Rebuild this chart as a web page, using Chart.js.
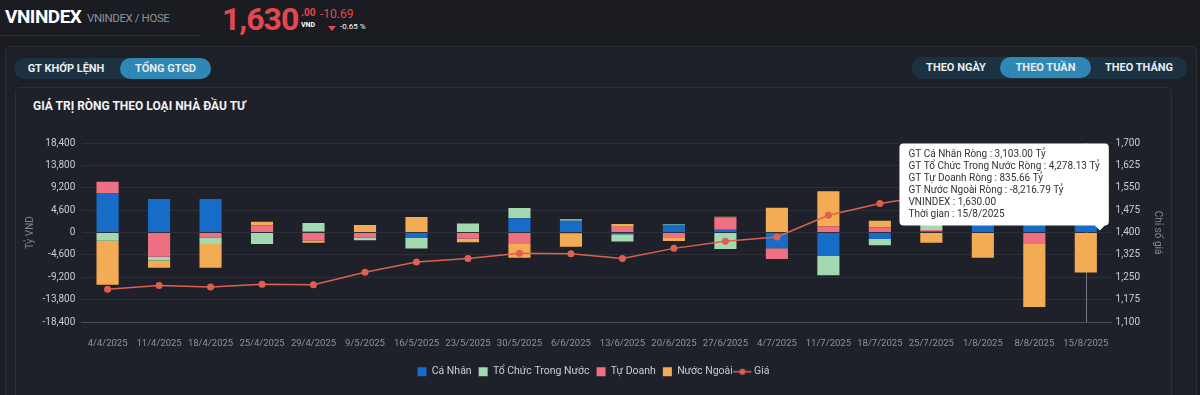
<!DOCTYPE html>
<html>
<head>
<meta charset="utf-8">
<script src="https://cdn.jsdelivr.net/npm/chart.js@4.4.1/dist/chart.umd.min.js"></script>
<style>
  body{margin:0;width:1200px;height:395px;background:#1a1c22;font-family:Roboto,sans-serif;overflow:hidden;position:relative;color:#fff}
  .abs{position:absolute;white-space:nowrap}
  #sym{left:5px;top:5px;font-weight:700;font-size:19px;letter-spacing:-0.5px}
  #exch{left:87px;top:11px;font-size:11.5px;letter-spacing:-0.4px;color:#8d929b}
  #hline{left:0;top:35px;width:200px;height:1px;background:#2b2e36}
  #price{left:222px;top:0px;font-weight:700;font-size:32px;letter-spacing:-1px;color:#e5474f}
  #dec{left:301px;top:7px;font-size:10px;font-weight:700;color:#e5474f}
  #unit{left:301px;top:21px;font-size:7px;font-weight:700;color:#fff}
  #chg{left:320px;top:7px;font-size:12px;color:#e5474f}
  #tri{left:328px;top:26px;width:0;height:0;border-left:4px solid transparent;border-right:4px solid transparent;border-top:5px solid #e5474f}
  #pct{left:340px;top:22px;font-size:8px;color:#fff}
  #outer{left:5px;top:46px;width:1190px;height:360px;border:1px solid #2c3038;border-radius:6px;background:#1d2027}
  .tabs{height:21px;border-radius:11px;background:#1c3242;font-size:11px;font-weight:700}
  .tabs span{position:absolute;top:0;height:21px;line-height:21px;text-align:center;border-radius:11px;color:#e8ecf0}
  .tabs span.on{background:#2f87b3}
  #inner{left:15px;top:87px;width:1155px;height:320px;border:1px solid #2b2f38;border-radius:5px;background:#1e2129}
  #title{left:33px;top:99px;font-size:12px;font-weight:700;color:#f2f3f5}
  #wrap{left:16px;top:125px;width:1155px;height:270px}
</style>
</head>
<body>
<div class="abs" id="sym">VNINDEX</div>
<div class="abs" id="exch">VNINDEX / HOSE</div>
<div class="abs" id="hline"></div>
<div class="abs" id="price">1,630</div>
<div class="abs" id="dec">.00</div>
<div class="abs" id="unit">VND</div>
<div class="abs" id="chg">-10.69</div>
<div class="abs" id="tri"></div>
<div class="abs" id="pct">-0.65 %</div>
<div class="abs" id="outer"></div>
<div class="abs tabs" style="left:14px;top:58px;width:197px">
  <span style="left:0;width:104px">GT KHỚP LỆNH</span>
  <span class="on" style="left:106px;width:91px">TỔNG GTGD</span>
</div>
<div class="abs tabs" style="left:912px;top:57px;width:275px;height:22px">
  <span style="left:0;width:88px">THEO NGÀY</span>
  <span class="on" style="left:88px;width:91px">THEO TUẦN</span>
  <span style="left:181px;width:92px">THEO THÁNG</span>
</div>
<div class="abs" id="inner"></div>
<div class="abs" id="title">GIÁ TRỊ RÒNG THEO LOẠI NHÀ ĐẦU TƯ</div>
<div class="abs" id="wrap"><canvas id="chart"></canvas></div>
<script>
var dates = ['4/4/2025','11/4/2025','18/4/2025','25/4/2025','29/4/2025','9/5/2025','16/5/2025','23/5/2025','30/5/2025','6/6/2025',
             '13/6/2025','20/6/2025','27/6/2025','4/7/2025','11/7/2025','18/7/2025','25/7/2025','1/8/2025','8/8/2025','15/8/2025'];
// net values, ty VND
var caNhan    = [8140, 6900, 6900, 120, 150, 100, -1100, 0, 2960, 2400, -350, 1600, 560, -3250, -4830, -1300, 200, 3000, 8000, 3103.00];
var toChuc    = [-1660, -760, -1300, -2350, 1800, -600, -2200, 1850, 2070, 350, -1500, 150, -3380, 0, -3940, -1330, 1600, 1800, 7200, 4278.13];
var tuDoanh   = [2280, -4970, -1040, 1400, -1650, -1000, 0, -1200, -2340, -300, 1200, -1100, 2550, -2200, 1240, 1040, 300, 380, -2200, 835.66];
var nuocNgoai = [-9050, -1510, -4910, 680, -450, 1450, 3200, -800, -2840, -2600, 550, -650, 150, 5120, 7250, 1380, -2100, -5180, -13100, -8216.79];
var gia       = [1210, 1223, 1218, 1227, 1225, 1267, 1301, 1313, 1331, 1329, 1313, 1347, 1371, 1385, 1458, 1497, 1524, 1495, 1585, 1630];

var leftTicks = {min: -18400, max: 18400, step: 4600};
var rightTicks = {min: 1100, max: 1700, step: 75};

var fmt = function(v){ return v.toLocaleString('en-US', {minimumFractionDigits: 2, maximumFractionDigits: 2}); };

// legend icon for the price line (drawn in the left 18px so it clears the text)
var lineIcon = document.createElement('canvas');
lineIcon.width = 22; lineIcon.height = 8;
(function(){
  var c = lineIcon.getContext('2d');
  c.strokeStyle = '#de6050'; c.lineWidth = 1.5;
  c.beginPath(); c.moveTo(0, 4); c.lineTo(18, 4); c.stroke();
  c.fillStyle = '#de6050';
  c.beginPath(); c.arc(9, 4, 3, 0, Math.PI*2); c.fill();
})();

// legend / tooltip order: CN, TC, TD, NN, price
var rank = {'Cá Nhân': 0, 'Tổ Chức Trong Nước': 1, 'Tự Doanh': 2, 'Nước Ngoài': 3, 'Giá': 4};

Chart.Tooltip.positioners.barTop = function(items) {
  if (!items.length) return false;
  var chart = this.chart;
  return {x: items[0].element.x + 14, y: chart.scales.y.getPixelForValue(0)};
};

var crosshair = {
  id: 'crosshair',
  beforeDatasetsDraw: function(chart) {
    var act = chart.tooltip.getActiveElements();
    if (!act.length) return;
    var el = chart.getDatasetMeta(act[0].datasetIndex).data[act[0].index];
    var ctx = chart.ctx, a = chart.chartArea;
    ctx.save();
    ctx.strokeStyle = 'rgba(190,195,205,0.55)';
    ctx.lineWidth = 1;
    ctx.beginPath();
    ctx.moveTo(Math.round(el.x) + 0.5, a.top);
    ctx.lineTo(Math.round(el.x) + 0.5, a.bottom);
    ctx.stroke();
    ctx.restore();
  }
};

Chart.defaults.font.family = 'Roboto, sans-serif';

var ctx = document.getElementById('chart').getContext('2d');
var myChart = new Chart(ctx, {
  type: 'bar',
  data: {
    labels: dates,
    datasets: [
      {type: 'line', label: 'Giá', data: gia, yAxisID: 'y1', borderColor: '#de6050', backgroundColor: '#de6050',
       borderWidth: 1.5, pointRadius: 3.5, pointBorderWidth: 0, pointBackgroundColor: '#de6050', tension: 0},
      {label: 'Cá Nhân', data: caNhan, backgroundColor: '#176cc7', yAxisID: 'y'},
      {label: 'Tự Doanh', data: tuDoanh, backgroundColor: '#ef7082', yAxisID: 'y'},
      {label: 'Tổ Chức Trong Nước', data: toChuc, backgroundColor: '#a3d9b0', yAxisID: 'y'},
      {label: 'Nước Ngoài', data: nuocNgoai, backgroundColor: '#f4ac54', yAxisID: 'y'}
    ]
  },
  options: {
    responsive: true,
    maintainAspectRatio: false,
    animation: false,
    categoryPercentage: 1,
    barPercentage: 0.43,
    layout: {padding: {left: 4, right: 4, top: 18, bottom: 8}},
    interaction: {mode: 'index', intersect: false},
    scales: {
      x: {
        stacked: true,
        grid: {display: false, drawTicks: false},
        border: {color: '#4a4e57'},
        ticks: {color: '#8d929b', font: {size: 9.5}, padding: 16, maxRotation: 0, autoSkip: false},
        afterFit: function(s){ s.height -= 6; }
      },
      y: {
        stacked: true,
        position: 'left',
        min: leftTicks.min, max: leftTicks.max,
        ticks: {stepSize: leftTicks.step, color: '#c9ccd3', font: {size: 10}, padding: 6.5},
        grid: {color: 'rgba(255,255,255,0.07)', drawTicks: false},
        border: {display: false},
        title: {display: true, text: 'Tỷ VND', color: '#7f848d', font: {size: 10}, padding: {top: 4, bottom: 0}}
      },
      y1: {
        position: 'right',
        min: rightTicks.min, max: rightTicks.max,
        ticks: {stepSize: rightTicks.step, color: '#c9ccd3', font: {size: 10}, padding: 4},
        grid: {display: false, drawTicks: false},
        border: {display: false},
        title: {display: true, text: 'Chỉ số giá', color: '#7f848d', font: {size: 10}, padding: {top: 4, bottom: 7}}
      }
    },
    plugins: {
      legend: {
        position: 'bottom',
        labels: {
          usePointStyle: true,
          boxWidth: 9,
          boxHeight: 9,
          padding: 7,
          color: '#c9ccd3',
          font: {size: 10.5},
          generateLabels: function(chart) {
            var items = Chart.defaults.plugins.legend.labels.generateLabels(chart);
            items.forEach(function(it){
              it.pointStyle = it.text === 'Giá' ? lineIcon : 'rect';
              it.lineWidth = 0;
            });
            return items;
          },
          sort: function(a, b){ return rank[a.text] - rank[b.text]; }
        }
      },
      tooltip: {
        position: 'barTop',
        xAlign: 'right',
        yAlign: 'bottom',
        backgroundColor: '#ffffff',
        bodyColor: '#333333',
        bodyFont: {size: 10},
        bodySpacing: 0,
        padding: {left: 9, right: 9, top: 5, bottom: 5},
        cornerRadius: 4,
        caretSize: 5,
        caretPadding: 2,
        displayColors: false,
        itemSort: function(a, b){ return rank[a.dataset.label] - rank[b.dataset.label]; },
        callbacks: {
          title: function(){ return ''; },
          label: function(c){
            if (c.dataset.type === 'line') return 'VNINDEX : ' + fmt(c.parsed.y);
            return 'GT ' + c.dataset.label + ' Ròng : ' + fmt(c.parsed.y) + ' Tỷ';
          },
          afterBody: function(items){ return 'Thời gian : ' + items[0].label; }
        }
      }
    }
  },
  plugins: [crosshair]
});

// show the hover state on the last week, like the screenshot
var last = dates.length - 1;
myChart.tooltip.setActiveElements(myChart.data.datasets.map(function(d, i){ return {datasetIndex: i, index: last}; }), {x: 0, y: 0});
myChart.update();
</script>
</body>
</html>
